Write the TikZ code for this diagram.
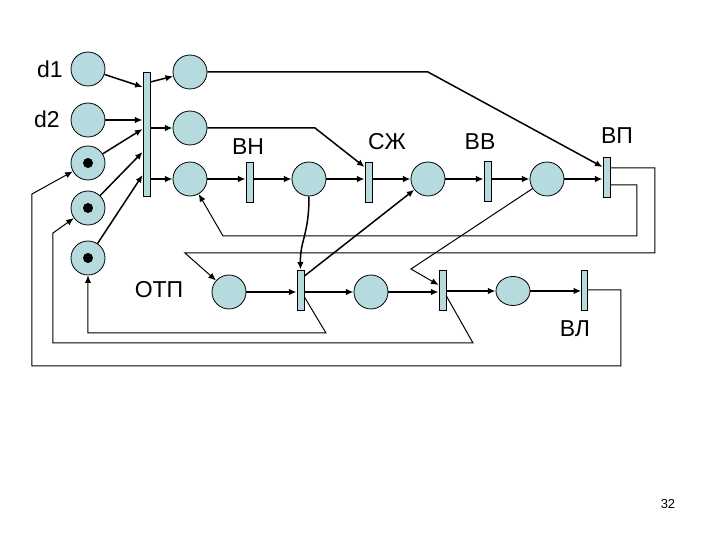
\documentclass[tikz,border=0pt]{standalone}
\usepackage{fontspec}
\setmainfont{Liberation Sans}
\usetikzlibrary{arrows.meta,calc,shapes.geometric}
\definecolor{placefill}{RGB}{182,219,223}

\begin{document}
\begin{tikzpicture}[x=0.5pt,y=-0.5pt,>={Latex[length=3.8pt,width=3.2pt]},
place/.style={circle,draw,fill=placefill,minimum size=17pt,inner sep=0pt,line width=0.4pt},
trans/.style={rectangle,draw,fill=placefill,minimum width=3.5pt,minimum height=20pt,inner sep=0pt,line width=0.4pt},
token/.style={circle,fill=black,minimum size=5pt,inner sep=0pt},
arc/.style={->,line width=0.75pt},
thin arc/.style={->,line width=0.5pt},
name text/.style={font=\fontsize{11.5}{13}\selectfont}]
\useasboundingbox (0,0) rectangle (720,540);
% The left column of places
\node[place] (d1) at (88,69) {};
\node[place] (d2) at (88,120) {};
\node[place] (m1) at (88,163) {};
\node[place] (m2) at (88,208) {};
\node[place] (m3) at (88,258) {};
\foreach \p in {m1,m2,m3}
  \node[token] (\p tok) at (\p) {};

% The start transition and its places
\node[trans,minimum height=62pt] (go) at (146.5,134) {};
\node[place] (p1) at (190,72) {};
\node[place] (p2) at (190,128) {};
\node[place] (p3) at (190,179) {};

% The upper chain
\node[trans] (vn) at (249.5,182) {};
\node[place] (p4) at (309,179) {};
\node[trans] (szh) at (368.5,182) {};
\node[place] (p5) at (428,179) {};
\node[trans] (vv) at (487.5,181.5) {};
\node[place] (p6) at (547,179) {};
\node[trans] (vp) at (606.5,177) {};

% The lower chain
\node[place] (p7) at (229,292) {};
\node[trans] (ta) at (300.5,290) {};
\node[place] (p8) at (371,292) {};
\node[trans] (tb) at (442.5,290) {};
\node[place,ellipse,minimum width=17pt,minimum height=14.5pt] (p9) at (513,291) {};
\node[trans,minimum width=2.8pt] (vl) at (584.5,290) {};

% The labels
\node[name text] (d1 text) at (50,69) {d1};
\node[name text] (d2 text) at (47,119) {d2};
\node[name text] (vn text) at (248,147) {ВН};
\node[name text] (szh text) at (387,142) {СЖ};
\node[name text] (vv text) at (480,142) {ВВ};
\node[name text] (vp text) at (617,136) {ВП};
\node[name text] (otp text) at (159,290) {ОТП};
\node[name text] (vl text) at (575,329) {ВЛ};
\node[font=\fontsize{6.5}{8}\selectfont] (page) at (668,504) {32};

% Into the start transition
\draw[arc] (d1) -- ($(go.west)+(0,-47)$);
\draw[arc] (d2) -- (d2 -| go.west);
\draw[arc] (m1) -- ($(go.west)+(0,-5)$);
\draw[arc] (m2) -- ($(go.west)+(0,18)$);
\draw[arc] (m3) -- ($(go.west)+(0,41)$);
% Out of it
\draw[arc] ($(go.east)+(0,-52)$) -- (p1);
\draw[arc] (go.east |- p2) -- (p2);
\draw[arc] (go.east |- p3) -- (p3);

% Arcs along the chains
\foreach \a/\b in {p3/vn,p4/szh,p5/vv,p6/vp,p7/ta,p8/tb,p9/vl}
  \draw[arc] (\a) -- (\a -| \b.west);
\foreach \a/\b in {vn/p4,szh/p5,vv/p6,ta/p8,tb/p9}
  \draw[arc] (\b -| \a.east) -- (\b);

% Long arcs from the upper places
\coordinate (c1) at (428,72);
\draw[arc] (p1) -- (c1) -- ($(vp.west)+(0,-10)$);
\coordinate (c2) at (315,128);
\draw[arc] (p2) -- (c2) -- ($(szh.west)+(0,-15)$);

% Back from VP
\coordinate (c3) at (637,236);
\coordinate (c4) at (223,236);
\draw[thin arc] ($(vp.east)+(0,8)$) -| (c3) -- (c4) -- (p3);
\coordinate (c5) at (655,253);
\coordinate (c6) at (185,253);
\draw[thin arc] ($(vp.east)+(0,-9)$) -| (c5) -- (c6) -- (p7);

% Between the two chains
\draw[arc] (p4) .. controls (309,235) and (300,240) .. (ta.north);
\draw[arc] ($(ta.east)+(0,-14)$) -- (p5);
\coordinate (c7) at (411,269);
\draw[thin arc] (p6) -- (c7) -- ($(tb.west)+(0,-5)$);

% Returns to the marked places
\coordinate (c8) at (326,333);
\draw[thin arc] ($(ta.east)+(0,7)$) -- (c8) -| (m3);
\coordinate (c9) at (473,343);
\coordinate (c10) at (53,233);
\draw[thin arc] ($(tb.east)+(0,6)$) -- (c9) -| (c10) -- (m2);
\coordinate (c11) at (621,366);
\coordinate (c12) at (32,194);
\draw[thin arc] (vl.east) -| (c11) -| (c12) -- (m1);
\end{tikzpicture}
\end{document}
